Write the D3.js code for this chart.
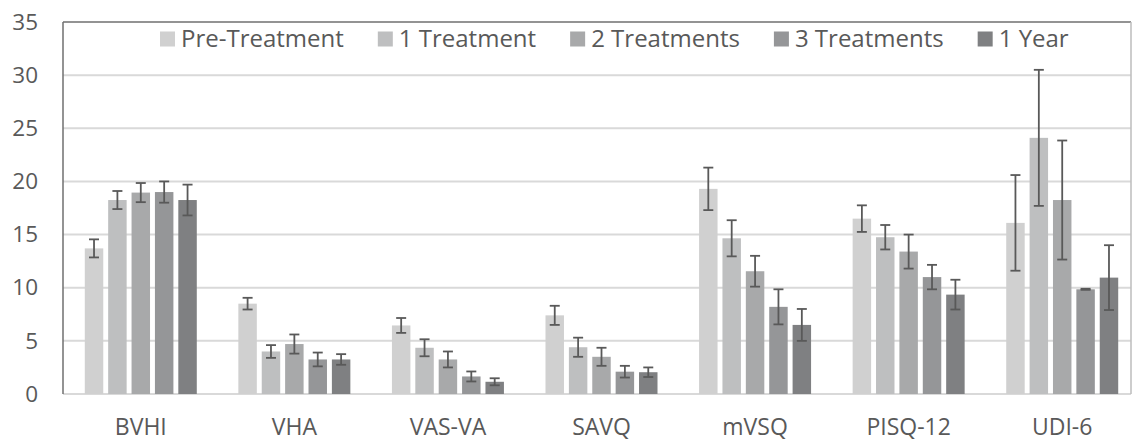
<!DOCTYPE html>
<html>
<head>
<meta charset="utf-8">
<script src="https://cdn.jsdelivr.net/npm/d3@7"></script>
<style>
  html, body { margin: 0; padding: 0; background: #fff; }
</style>
</head>
<body>
<script>
const categories = ['BVHI', 'VHA', 'VAS-VA', 'SAVQ', 'mVSQ', 'PISQ-12', 'UDI-6']
const seriesNames = ['Pre-Treatment', '1 Treatment', '2 Treatments', '3 Treatments', '1 Year']
const yTicks = [0, 5, 10, 15, 20, 25, 30, 35]

// means per series (one value per category)
const preTreatment = [13.7, 8.5, 6.45, 7.4, 19.3, 16.5, 16.1]
const oneTreatment = [18.25, 4.0, 4.35, 4.4, 14.65, 14.75, 24.1]
const twoTreatments = [18.95, 4.7, 3.25, 3.5, 11.55, 13.4, 18.25]
const threeTreatments = [19.0, 3.25, 1.65, 2.1, 8.2, 11.0, 9.85]
const oneYear = [18.25, 3.25, 1.15, 2.05, 6.5, 9.35, 10.95]

// error bar half-lengths
const preTreatmentErr = [0.85, 0.55, 0.7, 0.9, 2.0, 1.25, 4.5]
const oneTreatmentErr = [0.85, 0.6, 0.8, 0.9, 1.7, 1.15, 6.4]
const twoTreatmentsErr = [0.9, 0.9, 0.75, 0.85, 1.45, 1.6, 5.6]
const threeTreatmentsErr = [1.0, 0.65, 0.47, 0.55, 1.65, 1.15, 0.05]
const oneYearErr = [1.45, 0.5, 0.33, 0.45, 1.5, 1.4, 3.05]

const colors = ['#d0d0d0', '#bebfc0', '#a8a9aa', '#959698', '#7f8082']

const seriesValues = [preTreatment, oneTreatment, twoTreatments, threeTreatments, oneYear]
const seriesErrors = [preTreatmentErr, oneTreatmentErr, twoTreatmentsErr, threeTreatmentsErr, oneYearErr]

const width = 1132
const height = 442
const font = '"Open Sans", "Noto Sans", sans-serif'
const textColor = '#595959'

const plot = { left: 63, right: 1131, top: 22, bottom: 394 }

const svg = d3.select('body')
  .append('svg')
  .attr('width', width)
  .attr('height', height)
  .attr('viewBox', `0 0 ${width} ${height}`)

// Scales
const x0 = d3.scaleBand()
  .domain(categories)
  .range([64, 1139])

const groupWidth = 112
const x1 = d3.scaleBand()
  .domain(seriesNames)
  .range([0, groupWidth])
  .paddingInner(0.21)

const y = d3.scaleLinear()
  .domain([0, 35])
  .range([plot.bottom, plot.top])

// Gridlines
svg.append('g')
  .selectAll('line')
  .data(yTicks.filter(t => t < 35))
  .join('line')
  .attr('x1', plot.left)
  .attr('x2', plot.right)
  .attr('y1', d => y(d))
  .attr('y2', d => y(d))
  .attr('stroke', '#d9d9d9')
  .attr('stroke-width', 2)

// Frame
svg.append('line')
  .attr('x1', plot.left).attr('x2', plot.right)
  .attr('y1', plot.top).attr('y2', plot.top)
  .attr('stroke', '#6f6f6f').attr('stroke-width', 1.5)
svg.append('line')
  .attr('x1', plot.left).attr('x2', plot.left)
  .attr('y1', plot.top).attr('y2', plot.bottom)
  .attr('stroke', '#6f6f6f').attr('stroke-width', 1.5)
svg.append('line')
  .attr('x1', plot.right).attr('x2', plot.right)
  .attr('y1', plot.top).attr('y2', plot.bottom)
  .attr('stroke', '#bdbdbd').attr('stroke-width', 1.5)

// Y axis labels
const yAxis = svg.append('g')
  .attr('transform', `translate(${plot.left - 25}, 0)`)
  .call(d3.axisLeft(y).tickValues(yTicks).tickSize(0).tickPadding(0))
yAxis.select('.domain').remove()
yAxis.selectAll('text')
  .attr('font-family', font)
  .attr('font-size', 22.5)
  .attr('fill', textColor)

// X axis labels
const xAxis = svg.append('g')
  .attr('transform', `translate(0, ${plot.bottom})`)
  .call(d3.axisBottom(x0).tickSize(0).tickPadding(25))
xAxis.select('.domain').remove()
xAxis.selectAll('text')
  .attr('font-family', font)
  .attr('font-size', 23)
  .attr('fill', textColor)

// Bars
const groups = svg.append('g')
  .selectAll('g')
  .data(categories)
  .join('g')
  .attr('transform', d => `translate(${x0(d) + (x0.bandwidth() - groupWidth) / 2}, 0)`)

groups.selectAll('rect')
  .data((c, ci) => seriesNames.map((s, si) => ({ s, si, v: seriesValues[si][ci], e: seriesErrors[si][ci] })))
  .join('rect')
  .attr('x', d => x1(d.s))
  .attr('width', x1.bandwidth())
  .attr('y', d => y(d.v))
  .attr('height', d => y(0) - y(d.v))
  .attr('fill', d => colors[d.si])

// Error bars
const capHalf = 5
const errG = groups.selectAll('g.err')
  .data((c, ci) => seriesNames.map((s, si) => ({ s, si, v: seriesValues[si][ci], e: seriesErrors[si][ci] })))
  .join('g')
  .attr('class', 'err')
  .attr('stroke', '#595959')
  .attr('stroke-width', 1.8)

errG.append('line')
  .attr('x1', d => x1(d.s) + x1.bandwidth() / 2)
  .attr('x2', d => x1(d.s) + x1.bandwidth() / 2)
  .attr('y1', d => y(d.v + d.e))
  .attr('y2', d => y(d.v - d.e))
errG.append('line')
  .attr('x1', d => x1(d.s) + x1.bandwidth() / 2 - capHalf)
  .attr('x2', d => x1(d.s) + x1.bandwidth() / 2 + capHalf)
  .attr('y1', d => y(d.v + d.e))
  .attr('y2', d => y(d.v + d.e))
errG.append('line')
  .attr('x1', d => x1(d.s) + x1.bandwidth() / 2 - capHalf)
  .attr('x2', d => x1(d.s) + x1.bandwidth() / 2 + capHalf)
  .attr('y1', d => y(d.v - d.e))
  .attr('y2', d => y(d.v - d.e))

// Legend
const legend = svg.append('g')
  .attr('transform', 'translate(160, 39)')
let lx = 0
seriesNames.forEach((name, i) => {
  const item = legend.append('g').attr('transform', `translate(${lx}, 0)`)
  item.append('rect')
    .attr('x', 0)
    .attr('y', -7.5)
    .attr('width', 15)
    .attr('height', 15)
    .attr('fill', colors[i])
  const t = item.append('text')
    .attr('x', 21)
    .attr('dy', '0.35em')
    .attr('font-family', font)
    .attr('font-size', 24)
    .attr('fill', textColor)
    .text(name)
  lx += 21 + t.node().getComputedTextLength() + 34
})
</script>
</body>
</html>
